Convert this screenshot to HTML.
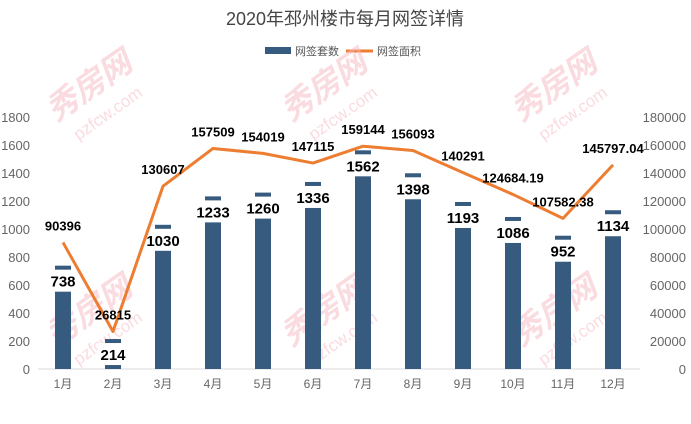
<!DOCTYPE html>
<html><head><meta charset="utf-8"><style>
body{margin:0;background:#fff;}
svg{display:block;font-family:"Liberation Sans","Noto Sans CJK SC",sans-serif;}
</style></head><body>
<svg id="c" width="691" height="424">
<text x="345" y="25" text-anchor="middle" font-size="18" fill="#444">2020年邳州楼市每月网签详情</text>
<g>
<rect x="265" y="47" width="26" height="7" fill="#375a7f"/>
<text x="295" y="55" font-size="11" fill="#555">网签套数</text>
<line x1="346" y1="51" x2="373" y2="51" stroke="#ed7d31" stroke-width="3"/>
<text x="377" y="55" font-size="11" fill="#555">网签面积</text>
</g>
<g id="wm" fill="#f4b6c0" opacity="0.5"></g>
<g id="axes"></g>
<g id="bars"></g>
<g id="line"></g>
</svg>
<script>
const cats=["1月","2月","3月","4月","5月","6月","7月","8月","9月","10月","11月","12月"];
const counts=[738,214,1030,1233,1260,1336,1562,1398,1193,1086,952,1134];
const areas=[90396,26815,130607,157509,154019,147115,159144,156093,140291,124684.19,107582.38,145797.04];
const areaLabels=["90396","26815","130607","157509","154019","147115","159144","156093","140291","124684.19","107582.38","145797.04"];
const leftTicks=[0,200,400,600,800,1000,1200,1400,1600,1800];
const rightTicks=[0,20000,40000,60000,80000,100000,120000,140000,160000,180000];
const NS="http://www.w3.org/2000/svg";
const y0=369,y1=117;
const yL=v=>y0-(v/1800)*(y0-y1);
const yR=v=>y0-(v/180000)*(y0-y1);
const xC=i=>63+i*50;
function mk(tag,attrs,parent,txt){const e=document.createElementNS(NS,tag);for(const k in attrs)e.setAttribute(k,attrs[k]);if(txt!=null)e.textContent=txt;parent.appendChild(e);return e;}
const wm=document.getElementById('wm');
[[95,95],[330,95],[560,95],[95,320],[330,320],[560,320]].forEach(p=>{
 const g=mk('g',{transform:`translate(${p[0]},${p[1]}) rotate(-35)`},wm);
 
 
 mk('text',{x:0,y:0,'font-size':32,'font-weight':'bold','text-anchor':'middle','font-style':'italic'},g,'秀房网');
 mk('text',{x:0,y:28,'font-size':17,'text-anchor':'middle'},g,'pzfcw.com');
});
const ax=document.getElementById('axes');
const base=mk('line',{x1:38,x2:640,y1:y0,y2:y0,stroke:'#d9d9d9','stroke-width':1},ax);


leftTicks.forEach(v=>{const t=mk('text',{x:30,y:yL(v)+5,'font-size':13,fill:'#666','text-anchor':'end'},ax,String(v));
 
 });
rightTicks.forEach(v=>{const t=mk('text',{x:686,y:yR(v)+5,'font-size':13,fill:'#666','text-anchor':'end'},ax,String(v));
 
 });
cats.forEach((c,i)=>{const t=mk('text',{x:xC(i),y:388,'font-size':12,fill:'#666','text-anchor':'middle'},ax,c);
 
 });
const bg=document.getElementById('bars');
counts.forEach((v,i)=>{
 const top=yL(v);
 const r=mk('rect',{x:xC(i)-8,y:top,width:16,height:y0-top,fill:'#375a7f'},bg);
 
 
 const s=String(v),w=s.length*9+4;
 const b=mk('rect',{x:xC(i)-w/2,y:top+4,width:w,height:22,fill:'#fff'},bg);
 
 
 const t=mk('text',{x:xC(i),y:top+21,'font-size':15,'font-weight':'bold',fill:'#000','text-anchor':'middle'},bg,s);
 
 
});
const lg=document.getElementById('line');
const pl=mk('polyline',{points:areas.map((v,i)=>xC(i)+','+yR(v)).join(' '),fill:'none',stroke:'#ed7d31','stroke-width':3,'stroke-linejoin':'round'},lg);


areas.forEach((v,i)=>{const t=mk('text',{x:xC(i),y:yR(v)-12,'font-size':13,'font-weight':'bold',fill:'#000','text-anchor':'middle'},lg,areaLabels[i]);
 
 });
</script>
</body></html>
